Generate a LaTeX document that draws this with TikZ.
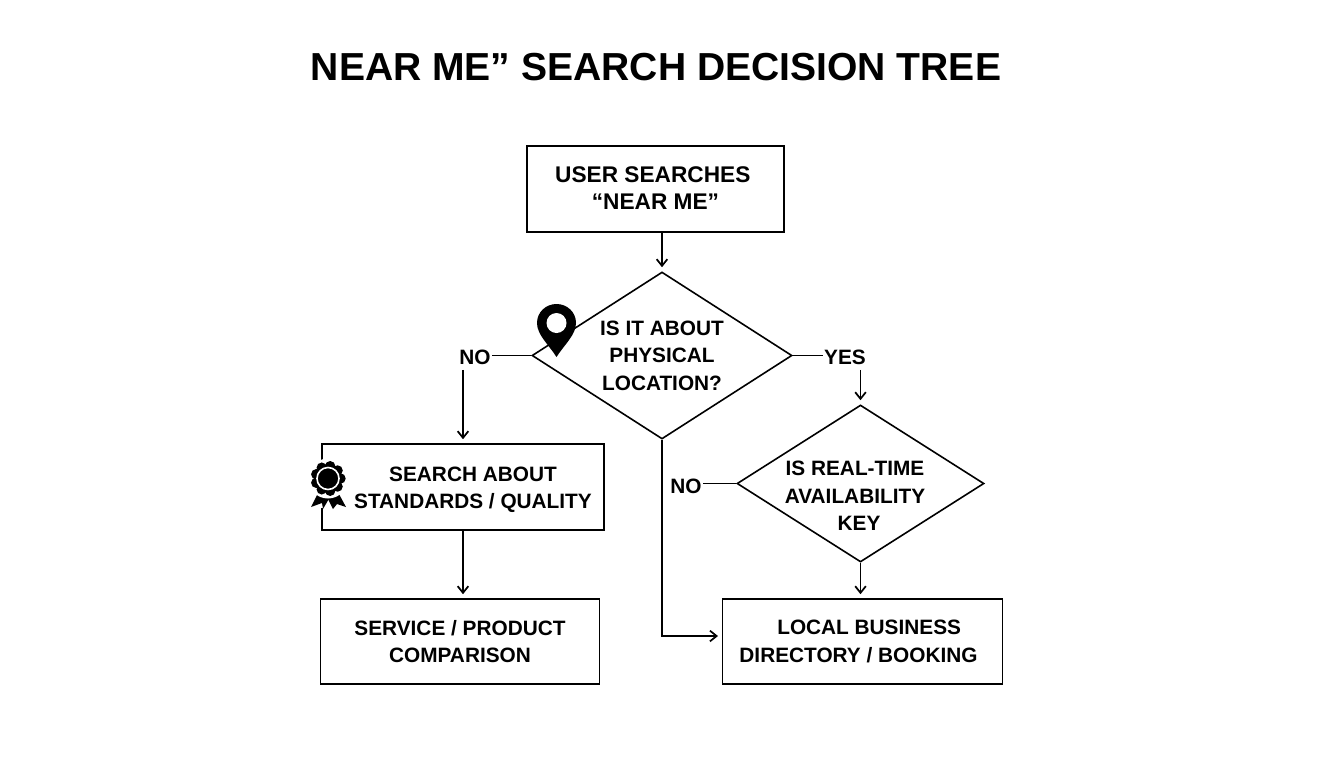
\documentclass[tikz,border=0pt]{standalone}
\usepackage{fontspec}
\setmainfont{Liberation Sans}
\usetikzlibrary{shapes.geometric}
\usetikzlibrary{arrows.meta}
\tikzset{
    stepbox/.style={draw, line width=1.2pt, rectangle, align=center, font=\fontsize{15.6}{20.7}\selectfont\bfseries, inner sep=0pt},
    question/.style={draw, line width=1.2pt, diamond, aspect=1.55, align=center, font=\fontsize{15.6}{20.7}\selectfont\bfseries, inner sep=0pt},
    answer/.style={align=center, font=\fontsize{15.6}{20.7}\selectfont\bfseries, inner sep=1pt},
    link/.style={line width=1.2pt},
    linkto/.style={link, -{Straight Barb[length=5pt,width=8pt,line width=1.3pt]}, shorten >=3pt}
}
\begin{document}
\begin{tikzpicture}[x=0.75pt, y=-0.75pt]
    \useasboundingbox (0,0) rectangle (1344,768);

    % Title
    \node[font=\fontsize{29.3}{36}\selectfont\bfseries] (title) at (656,67) {NEAR ME” SEARCH DECISION TREE};

    % Boxes
    \node[stepbox, font=\fontsize{17}{20.7}\selectfont\bfseries, minimum width=192.75pt, minimum height=64.5pt] (user) at (655.5,189) {USER SEARCHES\hspace*{4pt}\\“NEAR ME”\rule[-1.5pt]{0pt}{1pt}};
    \node[stepbox, minimum width=211.5pt, minimum height=64.5pt] (search) at (463,487) {\rule{0pt}{15pt}\hspace*{15pt}SEARCH ABOUT\\\hspace*{15pt}STANDARDS / QUALITY};
    \node[stepbox, minimum width=209.25pt, minimum height=63.75pt] (service) at (460,641.5) {SERVICE / PRODUCT\\COMPARISON};
    \node[stepbox, minimum width=210pt, minimum height=63.75pt] (local) at (862.5,641.5) {\hspace*{10pt}LOCAL BUSINESS\\DIRECTORY / BOOKING\hspace*{6pt}};

    % Questions
    \node[question, minimum width=195pt, minimum height=125.25pt] (physical) at (662,355.5) {IS IT ABOUT\\PHYSICAL\\LOCATION?};
    \node[question, minimum width=185.25pt, minimum height=117.75pt] (realtime) at (860.5,483.5) {};
    \node[answer] (realtimetext) at (855,496) {IS REAL-TIME\\AVAILABILITY\\\hspace*{6pt}KEY};

    % Answers
    \node[answer] (nophysical) at (475,357) {NO};
    \node[answer] (yesphysical) at (845,357) {YES};
    \node[answer] (norealtime) at (686,486) {NO};
    \coordinate (localin) at (722,636);

    % Connectors
    \draw[linkto] (user.south -| physical.north) -- (physical.north);
    \draw[link] (physical.west) -- (physical.west -| nophysical.east);
    \draw[linkto, shorten <=3pt] (nophysical.south -| search.north) -- (search.north);
    \draw[linkto] (search.south) -- (search.south |- service.north);
    \draw[link] (physical.east) -- (physical.east -| yesphysical.west);
    \draw[linkto, shorten <=3pt] (yesphysical.south -| realtime.north) -- (realtime.north);
    \draw[link] (realtime.west) -- (realtime.west -| norealtime.east);
    \draw[linkto] (realtime.south) -- (realtime.south |- local.north);
    \draw[linkto] (physical.south) |- (localin);

    % Pin
    \fill[black] (537,323) .. controls (537,312) and (546,304) .. (556.5,304) .. controls (567,304) and (576,312) .. (576,323) .. controls (576,335) and (564,345) .. (556.5,357) .. controls (549,345) and (537,335) .. (537,323);
    \fill[white] (556.5,323) circle (10);

    % Badge
    \fill[white] (316,461) rectangle (328,508);
    \fill[black] (318,493) -- (311,507) -- (322,503) -- (323,509) -- (330,497) -- cycle;
    \fill[black] (339,494) -- (346,507) -- (337,504) -- (333,509) -- (327,497) -- cycle;
    \fill[white] (328,478.5) circle (20);
    \foreach \a in {0,40,...,320}
        \fill[black] ({328+12.5*cos(\a)},{478.5+12.5*sin(\a)}) circle (5.2);
    \fill[black] (328,478.5) circle (14);
    \draw[white, line width=1.2pt] (328,478.5) circle (11);
\end{tikzpicture}
\end{document}
